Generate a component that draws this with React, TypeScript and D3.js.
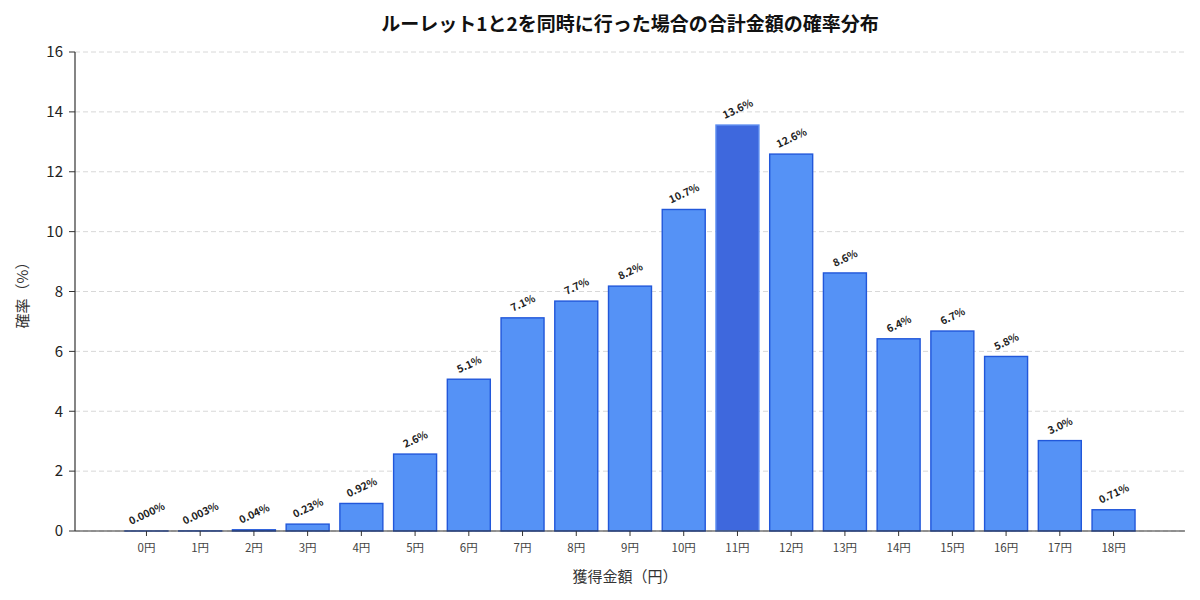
import React from 'react';
import * as d3 from 'd3';

// 獲得金額ごとの確率（%）
const amounts = [0, 1, 2, 3, 4, 5, 6, 7, 8, 9, 10, 11, 12, 13, 14, 15, 16, 17, 18];
const probabilities = [
  0.0004, 0.003, 0.04, 0.23, 0.92, 2.57, 5.07, 7.12, 7.68, 8.18, 10.74, 13.56, 12.59, 8.62,
  6.42, 6.68, 5.83, 3.02, 0.71,
];
const yTicks = [0, 2, 4, 6, 8, 10, 12, 14, 16];
const highlightAmount = 11;

const title = 'ルーレット1と2を同時に行った場合の合計金額の確率分布';
const xTitle = '獲得金額（円）';
const yTitle = '確率（%）';

const fmt = (v: number) => {
  if (v < 0.01) return `${v.toFixed(3)}%`;
  if (v < 1) return `${v.toFixed(2)}%`;
  return `${v.toFixed(1)}%`;
};

const FONT = '"Noto Sans CJK JP", "Noto Sans", sans-serif';

const App: React.FC = () => {
  const width = 1200;
  const height = 600;
  const margin = { top: 52, right: 15, bottom: 69, left: 75 };

  const x = d3
    .scaleLinear()
    .domain([-1.33, 19.33])
    .range([margin.left, width - margin.right]);
  const y = d3
    .scaleLinear()
    .domain([0, 16])
    .range([height - margin.bottom, margin.top]);

  const barW = x(0.8) - x(0);
  const y0 = y(0);
  const cx = (margin.left + width - margin.right) / 2;

  // rotated label: bottom of its rotated box sits a few px above the bar
  const angle = 25;
  const rad = (angle * Math.PI) / 180;
  const labelSize = 10.5;

  return (
    <svg width={width} height={height} style={{ display: 'block', margin: -8 }} fontFamily={FONT}>
      <rect width={width} height={height} fill="#fff" />
      <text x={cx} y={31} textAnchor="middle" fontSize={19} fontWeight="bold" fill="#111">
        {title}
      </text>

      {/* grid */}
      {yTicks.map((t) => (
        <line
          key={`g${t}`}
          x1={margin.left}
          x2={width - margin.right}
          y1={y(t)}
          y2={y(t)}
          stroke="#d4d4d4"
          strokeDasharray="5,3"
          strokeWidth={0.9}
        />
      ))}

      {/* bars */}
      {amounts.map((a, i) => {
        const v = probabilities[i];
        const hi = a === highlightAmount;
        return (
          <rect
            key={`b${a}`}
            x={x(a) - barW / 2}
            y={y(v)}
            width={barW}
            height={y0 - y(v)}
            fill={hi ? '#3e68dd' : '#5592f6'}
            stroke={hi ? '#5e8ef0' : '#2157da'}
            strokeWidth={1.4}
          />
        );
      })}

      {/* value labels */}
      {amounts.map((a, i) => {
        const v = probabilities[i];
        const s = fmt(v);
        const w = s.length * labelSize * 0.6;
        const h = labelSize * 1.1;
        const boxH = w * Math.sin(rad) + h * Math.cos(rad);
        const lx = x(a);
        const ly = y(v) - 5 - boxH / 2;
        return (
          <text
            key={`l${a}`}
            x={lx}
            y={ly}
            textAnchor="middle"
            dominantBaseline="central"
            fontSize={labelSize}
            fontWeight="bold"
            fill="#222"
            transform={`rotate(${-angle}, ${lx}, ${ly})`}
          >
            {s}
          </text>
        );
      })}

      {/* axes */}
      <line x1={margin.left} x2={margin.left} y1={margin.top} y2={y0} stroke="#333" strokeWidth={1.2} />
      <line x1={margin.left} x2={width - margin.right} y1={y0} y2={y0} stroke="#333" strokeWidth={1.2} />
      {yTicks.map((t) => (
        <g key={`yt${t}`}>
          <line x1={margin.left - 6} x2={margin.left} y1={y(t)} y2={y(t)} stroke="#333" />
          <text x={margin.left - 12} y={y(t)} dy="0.35em" textAnchor="end" fontSize={15} fill="#222">
            {t}
          </text>
        </g>
      ))}
      {amounts.map((a) => (
        <g key={`xt${a}`}>
          <line x1={x(a)} x2={x(a)} y1={y0} y2={y0 + 5} stroke="#333" />
          <text x={x(a)} y={y0 + 21} textAnchor="middle" fontSize={11.5} fill="#444">
            {`${a}円`}
          </text>
        </g>
      ))}
      <text x={cx - 5} y={582} textAnchor="middle" fontSize={15} fill="#333">
        {xTitle}
      </text>
      <text
        x={28}
        y={(margin.top + y0) / 2}
        textAnchor="middle"
        fontSize={15}
        fill="#333"
        transform={`rotate(-90, 28, ${(margin.top + y0) / 2})`}
      >
        {yTitle}
      </text>
    </svg>
  );
};

export default App;
